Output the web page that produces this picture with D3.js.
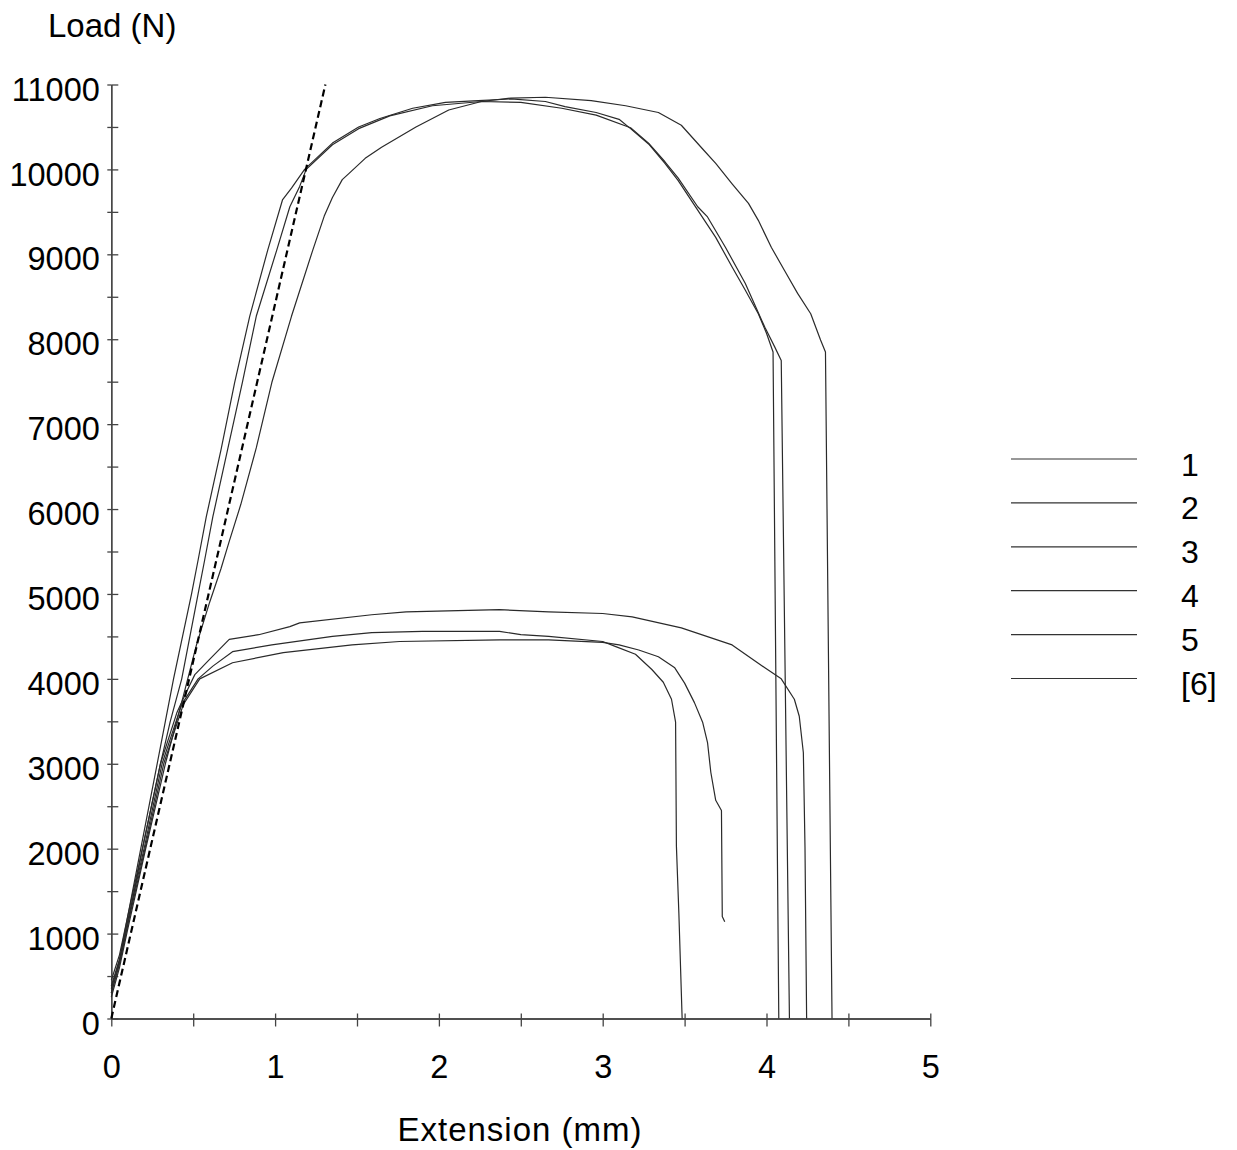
<!DOCTYPE html>
<html>
<head>
<meta charset="utf-8">
<script src="https://cdn.jsdelivr.net/npm/d3@7"></script>
<style>
  html, body { margin: 0; padding: 0; background: #fff; }
  svg { display: block; font-family: Arial, "Liberation Sans", sans-serif; }
</style>
</head>
<body>
<svg id="chart" width="1237" height="1150"></svg>
<script>
// ---------- DATA ----------
const seriesNames = ["1", "2", "3", "4", "5", "[6]"];

// [extension (mm), load (N)]
const curve1 = [[0,380],[0.05,700],[0.1,1200],[0.18,2000],[0.28,3000],[0.33,3500],[0.38,4000],[0.49,5000],[0.53,5400],[0.58,5910],[0.67,6700],[0.753,7490],[0.845,8270],[0.955,9050],[1.045,9640],[1.10,9780],[1.18,10000],[1.35,10310],[1.51,10500],[1.64,10600],[1.84,10720],[2.04,10790],[2.24,10810],[2.44,10830],[2.65,10800],[2.77,10740],[2.96,10670],[3.1,10590],[3.17,10480],[3.28,10300],[3.38,10070],[3.46,9870],[3.58,9520],[3.69,9200],[3.79,8850],[3.87,8580],[3.95,8300],[4.0,8070],[4.04,7850],[4.075,0]];
const curve2 = [[0,300],[0.05,650],[0.1,1100],[0.19,2000],[0.30,3000],[0.36,3500],[0.43,4000],[0.53,5000],[0.57,5400],[0.62,5910],[0.71,6700],[0.80,7490],[0.885,8270],[1.01,9050],[1.09,9560],[1.15,9800],[1.19,10000],[1.35,10290],[1.51,10480],[1.70,10630],[1.96,10750],[2.26,10800],[2.5,10790],[2.75,10720],[2.96,10640],[3.17,10490],[3.28,10310],[3.38,10090],[3.46,9900],[3.58,9560],[3.64,9440],[3.75,9080],[3.87,8660],[3.99,8140],[4.05,7910],[4.09,7750],[4.14,0]];
const curve3 = [[0,250],[0.05,600],[0.1,1050],[0.21,2000],[0.33,3000],[0.44,3800],[0.52,4400],[0.60,4900],[0.67,5300],[0.72,5620],[0.79,6050],[0.885,6720],[0.98,7490],[1.10,8270],[1.23,9050],[1.30,9450],[1.35,9670],[1.41,9880],[1.45,9950],[1.55,10130],[1.65,10260],[1.86,10500],[2.06,10700],[2.26,10800],[2.44,10840],[2.65,10850],[2.93,10810],[3.14,10750],[3.34,10670],[3.48,10520],[3.62,10220],[3.69,10070],[3.79,9830],[3.89,9600],[3.95,9400],[4.03,9080],[4.11,8810],[4.19,8540],[4.27,8300],[4.33,7990],[4.36,7850],[4.40,0]];
const curve4 = [[0,450],[0.05,750],[0.1,1200],[0.19,2000],[0.30,3000],[0.40,3600],[0.46,3850],[0.51,4050],[0.60,4230],[0.72,4465],[0.90,4520],[1.09,4615],[1.15,4660],[1.59,4755],[1.80,4790],[2.37,4815],[2.67,4790],[3.0,4770],[3.18,4730],[3.48,4600],[3.79,4400],[3.99,4130],[4.09,4000],[4.17,3760],[4.20,3560],[4.225,3130],[4.235,2020],[4.245,0]];
const curve5 = [[0,350],[0.05,680],[0.1,1150],[0.2,2000],[0.31,3000],[0.43,3700],[0.53,4000],[0.62,4150],[0.74,4320],[0.98,4400],[1.35,4500],[1.59,4545],[1.90,4560],[2.37,4560],[2.5,4520],[2.67,4500],[3.0,4440],[3.08,4380],[3.20,4290],[3.30,4110],[3.37,3960],[3.42,3760],[3.445,3490],[3.45,2030],[3.465,1240],[3.485,0]];
const curve6 = [[0,300],[0.05,650],[0.1,1100],[0.2,1950],[0.32,3000],[0.44,3700],[0.54,4000],[0.74,4190],[1.05,4310],[1.47,4400],[1.76,4440],[2.37,4460],[2.67,4460],[3.0,4430],[3.10,4400],[3.22,4340],[3.34,4260],[3.44,4130],[3.50,3950],[3.56,3720],[3.61,3490],[3.64,3250],[3.66,2900],[3.69,2570],[3.725,2450],[3.73,1200],[3.745,1140]];
const modulusLine = [[0,0],[1.307,11000]];

const xTicks = [0,0.5,1,1.5,2,2.5,3,3.5,4,4.5,5];
const yTicks = [0,500,1000,1500,2000,2500,3000,3500,4000,4500,5000,5500,6000,6500,7000,7500,8000,8500,9000,9500,10000,10500,11000];

const xLabel = "Extension (mm)";
const yLabel = "Load (N)";

// ---------- DRAW ----------
const svg = d3.select("#chart");
const x = d3.scaleLinear().domain([0,5]).range([111.3, 930.3]);
const y = d3.scaleLinear().domain([0,11000]).range([1018.5, 84.5]);
const axisColor = "#444";

// Y axis: outward part with labels
const yAxisOut = d3.axisLeft(y).tickValues(yTicks).tickSizeInner(4).tickSizeOuter(0).tickPadding(7.5)
  .tickFormat(d => d % 1000 === 0 ? String(d) : "");
const gy = svg.append("g").attr("transform", `translate(${x(0)},0)`).call(yAxisOut);
gy.selectAll("text").attr("font-size", 32.5).attr("fill", "#000").attr("dy", "0.48em")
  .attr("font-family", "Arial, 'Liberation Sans', sans-serif");
// inward part
const gy2 = svg.append("g").attr("transform", `translate(${x(0)},0)`)
  .call(d3.axisLeft(y).tickValues(yTicks).tickSizeInner(-7).tickSizeOuter(0).tickFormat(""));
[gy, gy2].forEach(g => { g.select(".domain").attr("stroke", axisColor).attr("stroke-width", 1.3); g.selectAll(".tick line").attr("stroke", axisColor).attr("stroke-width", 1.3); });

// X axis
const xAxisOut = d3.axisBottom(x).tickValues(xTicks).tickSizeInner(8).tickSizeOuter(0).tickPadding(28)
  .tickFormat(d => Number.isInteger(d) ? String(d) : "");
const gx = svg.append("g").attr("transform", `translate(0,${y(0)})`).call(xAxisOut);
gx.selectAll("text").attr("font-size", 32.5).attr("fill", "#000")
  .attr("font-family", "Arial, 'Liberation Sans', sans-serif");
const gx2 = svg.append("g").attr("transform", `translate(0,${y(0)})`)
  .call(d3.axisBottom(x).tickValues(xTicks).tickSizeInner(-5).tickSizeOuter(0).tickFormat(""));
[gx, gx2].forEach(g => { g.select(".domain").attr("stroke", axisColor).attr("stroke-width", 1.3); g.selectAll(".tick line").attr("stroke", axisColor).attr("stroke-width", 1.3); });

// Axis titles
svg.append("text").attr("x", 48).attr("y", 37).attr("font-size", 33).attr("fill", "#000").text(yLabel);
svg.append("text").attr("x", 520).attr("y", 1141).attr("text-anchor", "middle").attr("font-size", 33)
  .attr("letter-spacing", 1).attr("fill", "#000").text(xLabel);

// Curves
const line = d3.line().x(d => x(d[0])).y(d => y(d[1]));
const curves = [curve1, curve2, curve3, curve4, curve5, curve6];
svg.append("g").selectAll("path").data(curves).join("path")
  .attr("d", line).attr("fill", "none").attr("stroke", "#2a2a2a").attr("stroke-width", 1.2)
  .attr("stroke-linejoin", "round");

// Dashed modulus line
svg.append("path").datum(modulusLine).attr("d", line).attr("fill", "none")
  .attr("stroke", "#000").attr("stroke-width", 2.2).attr("stroke-dasharray", "7,4");

// Legend
const legend = svg.append("g");
seriesNames.forEach((name, i) => {
  const ly = 459 + i * 43.9;
  legend.append("line").attr("x1", 1011).attr("x2", 1137).attr("y1", ly).attr("y2", ly)
    .attr("stroke", "#333").attr("stroke-width", 1.2);
  legend.append("text").attr("x", 1181).attr("y", ly + 5).attr("dy", "0.36em")
    .attr("font-size", 32).attr("fill", "#000").text(name);
});
</script>
</body>
</html>
